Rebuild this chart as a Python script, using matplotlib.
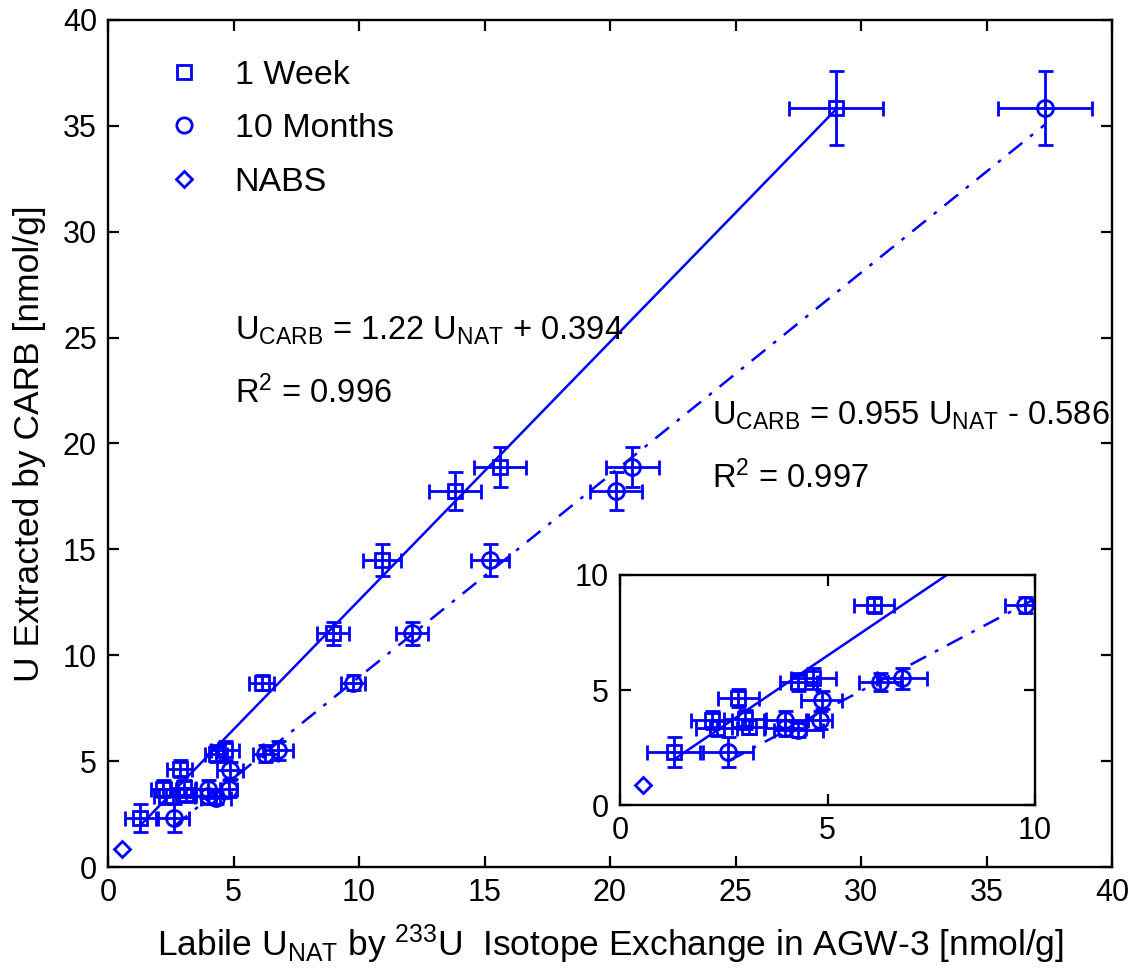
import matplotlib
matplotlib.use("Agg")
import matplotlib.pyplot as plt
from matplotlib.lines import Line2D
import numpy as np

plt.rcParams['font.family'] = ['Liberation Sans', 'DejaVu Sans']
plt.rcParams['mathtext.fontset'] = 'custom'
plt.rcParams['mathtext.rm'] = 'Liberation Sans'
plt.rcParams['mathtext.it'] = 'Liberation Sans'
plt.rcParams['mathtext.default'] = 'rm'

# ---- data ----
week_x = [29.0, 15.62, 13.82, 10.90, 8.98, 6.12, 4.66, 4.30, 2.85, 2.21, 3.01, 2.33, 3.10, 1.29]
week_y = [35.85, 18.90, 17.77, 14.49, 11.03, 8.70, 5.51, 5.36, 4.64, 3.70, 3.72, 3.33, 3.40, 2.32]
week_xerr = [1.87, 1.05, 1.03, 0.76, 0.64, 0.49, 0.55, 0.45, 0.50, 0.50, 0.50, 0.50, 0.40, 0.63]
week_yerr = [1.75, 0.94, 0.89, 0.75, 0.56, 0.36, 0.45, 0.40, 0.40, 0.40, 0.40, 0.35, 0.30, 0.65]

month_x = [37.33, 20.89, 20.24, 15.22, 12.10, 9.76, 6.79, 6.27, 4.86, 4.82, 3.98, 3.98, 4.30, 2.61]
month_y = [35.85, 18.90, 17.77, 14.49, 11.03, 8.70, 5.51, 5.36, 4.57, 3.70, 3.70, 3.33, 3.26, 2.32]
month_xerr = [1.88, 1.06, 1.03, 0.76, 0.64, 0.49, 0.60, 0.50, 0.50, 0.30, 0.50, 0.50, 0.60, 0.60]
month_yerr = [1.75, 0.94, 0.89, 0.75, 0.56, 0.36, 0.45, 0.40, 0.40, 0.40, 0.40, 0.35, 0.30, 0.65]

nabs_x = [0.55]
nabs_y = [0.85]

week_fit = [1.22, 0.394]     # slope, intercept
month_fit = [0.955, -0.586]

series_labels = ['1 Week', '10 Months', 'NABS']
main_ticks = [0, 5, 10, 15, 20, 25, 30, 35, 40]
inset_ticks = [0, 5, 10]

BLUE = '#0000ff'
TICK_FS = 22
LABEL_FS = 25.5
TEXT_FS = 23.5
LEG_FS = 24.5
MEW = 2.0

fig = plt.figure(figsize=(11.36, 9.8), dpi=100)
ax = fig.add_axes([108/1136, 113/980, 1004/1136, 847/980])
axin = fig.add_axes([620/1136, 175/980, 415/1136, 230/980])


def draw(a):
    ekw = dict(fmt='none', ecolor=BLUE, elinewidth=2.0, capsize=5.4, capthick=2.0, zorder=2)
    a.errorbar(week_x, week_y, xerr=week_xerr, yerr=week_yerr, **ekw)
    a.errorbar(month_x, month_y, xerr=month_xerr, yerr=month_yerr, **ekw)
    a.plot(week_x, week_y, linestyle='none', marker='s', ms=10, mew=MEW,
           mec=BLUE, mfc='none', zorder=3)
    a.plot(month_x, month_y, linestyle='none', marker='o', ms=11.5, mew=MEW,
           mec=BLUE, mfc='none', zorder=3)
    a.plot(nabs_x, nabs_y, linestyle='none', marker='D', ms=8, mew=MEW,
           mec=BLUE, mfc='none', zorder=3)
    wx = np.array([min(week_x), max(week_x)])
    a.plot(wx, week_fit[0] * wx + week_fit[1], color=BLUE, lw=1.8, zorder=2.5)
    mx = np.array([min(month_x), max(month_x)])
    a.plot(mx, month_fit[0] * mx + month_fit[1], color=BLUE, lw=1.8,
           linestyle=(0, (7, 4, 1.5, 4)), zorder=2.5)


draw(ax)
draw(axin)

for a, ticks, lim in [(ax, main_ticks, 40), (axin, inset_ticks, 10)]:
    a.set_xlim(0, lim)
    a.set_ylim(0, lim)
    a.set_xticks(ticks)
    a.set_yticks(ticks)
    a.tick_params(direction='in', top=True, right=True, length=8, width=1.6,
                  labelsize=TICK_FS, pad=8, colors='black')
    for s in a.spines.values():
        s.set_linewidth(1.7)

axin.set_facecolor('white')

ax.set_xlabel(r'Labile U$_{\mathrm{NAT}}$ by $^{233}$U  Isotope Exchange in AGW-3 [nmol/g]',
              fontsize=LABEL_FS, labelpad=10)
ax.set_ylabel('U Extracted by CARB [nmol/g]', fontsize=LABEL_FS, labelpad=12)

ax.text(5.06, 24.9, r'U$_{\mathrm{CARB}}$ = 1.22 U$_{\mathrm{NAT}}$ + 0.394',
        fontsize=TEXT_FS, ha='left', va='baseline')
ax.text(5.06, 21.9, r'R$^{2}$ = 0.996', fontsize=TEXT_FS, ha='left', va='baseline')
ax.text(24.06, 20.9, r'U$_{\mathrm{CARB}}$ = 0.955 U$_{\mathrm{NAT}}$ - 0.586',
        fontsize=TEXT_FS, ha='left', va='baseline')
ax.text(24.06, 17.9, r'R$^{2}$ = 0.997', fontsize=TEXT_FS, ha='left', va='baseline')

handles = [
    Line2D([], [], linestyle='none', marker='s', ms=9.5, mew=MEW, mec=BLUE, mfc='none'),
    Line2D([], [], linestyle='none', marker='o', ms=11, mew=MEW, mec=BLUE, mfc='none'),
    Line2D([], [], linestyle='none', marker='D', ms=8, mew=MEW, mec=BLUE, mfc='none'),
]
ax.legend(handles, series_labels, loc='upper left', bbox_to_anchor=(0.06, 0.953),
          frameon=False, fontsize=LEG_FS, handlelength=0.9, handletextpad=1.05,
          labelspacing=0.66, borderpad=0, borderaxespad=0)

fig.savefig('out.png', dpi=100)
